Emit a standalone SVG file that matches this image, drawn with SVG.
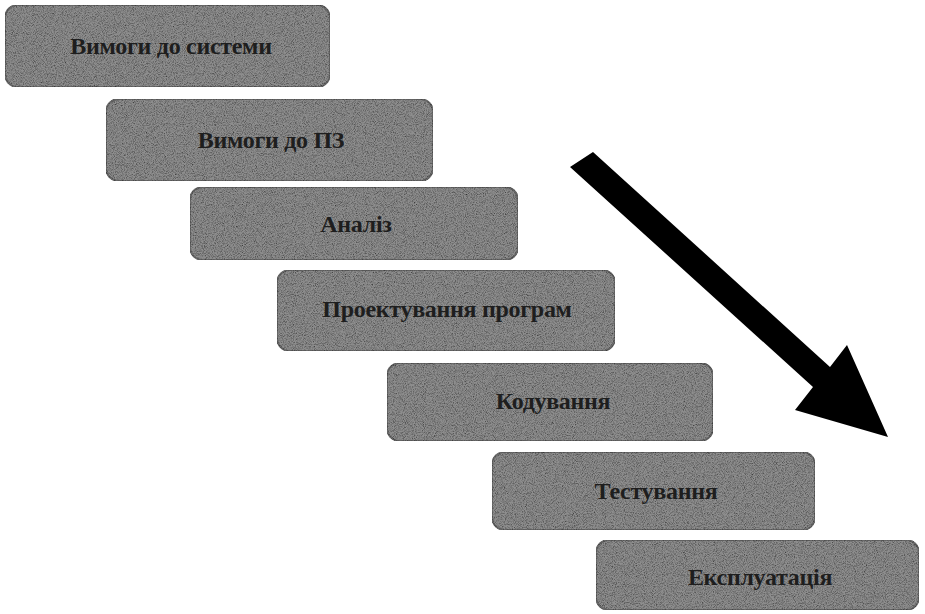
<svg xmlns="http://www.w3.org/2000/svg" width="925" height="614" viewBox="0 0 925 614">
  <defs>
    <style>
      .box { fill: #8e8e8e; stroke: #6b6b6b; stroke-width: 2; filter: url(#grain); }
      .lbl { font-family: "Liberation Serif", "DejaVu Serif", serif; font-size: 24px; font-weight: bold; fill: #1e1e1e; text-anchor: middle; dominant-baseline: central; letter-spacing: -0.3px; }
    </style>
    <!-- speckled print texture for the step boxes -->
    <filter id="grain" x="0" y="0" width="100%" height="100%">
      <feTurbulence type="fractalNoise" baseFrequency="1.1" numOctaves="2" seed="3" result="noise"/>
      <feColorMatrix in="noise" type="matrix" values="0 0 0 0 0  0 0 0 0 0  0 0 0 0 0  0 0 0 -1.6 1.0" result="dark"/>
      <feComposite in="dark" in2="SourceGraphic" operator="in" result="speck"/>
      <feMerge>
        <feMergeNode in="SourceGraphic"/>
        <feMergeNode in="speck"/>
      </feMerge>
    </filter>
  </defs>
  <rect width="925" height="614" fill="#ffffff"/>

  <g id="step1">
    <rect class="box" x="5" y="5" width="325" height="82" rx="13"/>
    <text class="lbl" x="171" y="46">Вимоги до системи</text>
  </g>
  <g id="step2">
    <rect class="box" x="106" y="99" width="327" height="82" rx="13"/>
    <text class="lbl" x="271" y="140">Вимоги до ПЗ</text>
  </g>
  <g id="step3">
    <rect class="box" x="190" y="187" width="328" height="73" rx="13"/>
    <text class="lbl" x="356" y="224">Аналіз</text>
  </g>
  <g id="step4">
    <rect class="box" x="277" y="270" width="338" height="81" rx="13"/>
    <text class="lbl" x="447" y="309">Проектування програм</text>
  </g>
  <g id="step5">
    <rect class="box" x="387" y="363" width="326" height="78" rx="13"/>
    <text class="lbl" x="553" y="401">Кодування</text>
  </g>
  <g id="step6">
    <rect class="box" x="492" y="452" width="323" height="78" rx="13"/>
    <text class="lbl" x="656" y="491">Тестування</text>
  </g>
  <g id="step7">
    <rect class="box" x="596" y="540" width="323" height="70" rx="13"/>
    <text class="lbl" x="760" y="577">Експлуатація</text>
  </g>

  <g id="connectors">
    <!-- big downward flow arrow -->
    <polygon fill="#000000" points="593,152 830,367 847,345 888,437 795,410 813,387 570,167"/>
  </g>
</svg>
